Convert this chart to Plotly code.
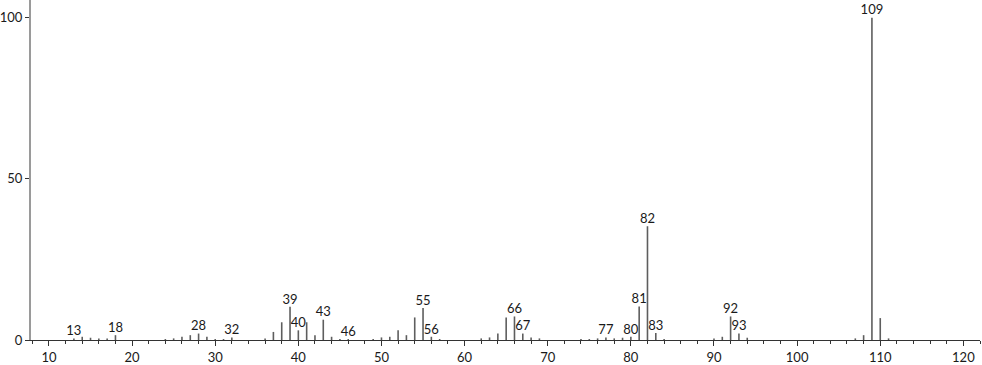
import plotly.graph_objects as go

# m/z values and relative intensities (%)
mz = [13, 14, 15, 16, 17, 18,
      24, 25, 26, 27, 28, 29, 30, 31, 32,
      36, 37, 38, 39, 40, 41, 42, 43, 44, 45, 46,
      49, 50, 51, 52, 53, 54, 55, 56, 57,
      62, 63, 64, 65, 66, 67, 68, 69,
      74, 75, 76, 77, 78, 79, 80, 81, 82, 83, 84,
      90, 91, 92, 93, 94,
      107, 108, 109, 110, 111]
intensity = [0.5, 1.0, 0.7, 0.5, 0.5, 1.5,
             0.3, 0.5, 1.0, 1.5, 2.0, 1.0, 0.3, 0.3, 0.8,
             0.5, 2.5, 5.5, 10.3, 3.0, 5.5, 1.5, 6.3, 1.0, 0.3, 0.3,
             0.3, 0.8, 1.0, 3.0, 1.5, 7.0, 9.9, 1.0, 0.3,
             0.5, 0.8, 2.0, 7.0, 7.3, 2.0, 0.8, 0.5,
             0.3, 0.3, 0.5, 0.8, 0.5, 0.7, 1.0, 10.4, 35.3, 2.2, 0.3,
             0.5, 1.0, 7.3, 2.0, 0.7,
             0.5, 1.5, 100.0, 6.8, 0.5]
label_mz = [13, 18, 28, 32, 39, 40, 43, 46, 55, 56, 66, 67, 77, 80, 81, 82, 83, 92, 93, 109]

x_ticks = [10, 20, 30, 40, 50, 60, 70, 80, 90, 100, 110, 120]
y_ticks = [0, 50, 100]

xs, ys = [], []
for m, i in zip(mz, intensity):
    xs += [m, m, None]
    ys += [0, i, None]

fig = go.Figure()
fig.add_trace(go.Scatter(x=xs, y=ys, mode="lines",
                         line=dict(color="#5e5e5e", width=1.6),
                         hoverinfo="skip", showlegend=False))
lab_y = [intensity[mz.index(m)] for m in label_mz]
fig.add_trace(go.Scatter(x=label_mz, y=lab_y, mode="text",
                         text=[str(m) for m in label_mz],
                         textposition="top center",
                         textfont=dict(family="Lato, DejaVu Sans, sans-serif", size=13, color="#1a1a1a"),
                         cliponaxis=False, hoverinfo="skip", showlegend=False))

fig.update_layout(
    width=982, height=365,
    margin=dict(l=28, r=2, t=0, b=22),
    paper_bgcolor="white", plot_bgcolor="white",
    font=dict(family="Lato, DejaVu Sans, sans-serif", size=13, color="#1a1a1a"),
    xaxis=dict(range=[7.84, 122.0], tickvals=x_ticks, ticktext=[str(t) for t in x_ticks],
               showgrid=False, zeroline=False, showline=True, linecolor="#333", linewidth=1,
               ticks="outside", ticklen=5, tickcolor="#333", tickwidth=1,
               minor=dict(dtick=2, tick0=0, ticks="outside", ticklen=3, tickcolor="#333", showgrid=False),
               tickfont=dict(size=13)),
    yaxis=dict(range=[0, 105.5], tickvals=y_ticks, ticktext=[str(t) for t in y_ticks],
               showgrid=False, zeroline=False, showline=True, linecolor="#9a9a9a", linewidth=2,
               ticks="outside", ticklen=4, tickcolor="#333", tickwidth=1,
               tickfont=dict(size=13)),
)

fig.write_html("out.html")
